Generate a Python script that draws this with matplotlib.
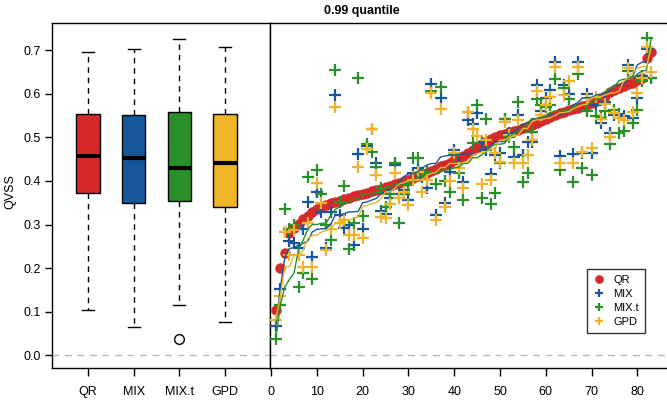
import numpy as np
import matplotlib
matplotlib.use('Agg')
import matplotlib.pyplot as plt

plt.rcParams['font.family'] = ['Liberation Sans', 'DejaVu Sans']

# 配色
colors = {'QR': '#D62A2A', 'MIX': '#16579C', 'MIX.t': '#2A902A', 'GPD': '#F0B428'}
methods = ['QR', 'MIX', 'MIX.t', 'GPD']

# 箱线图统计量 (下须, Q1, 中位数, Q3, 上须)
box_lo = [0.104, 0.065, 0.115, 0.077]
box_q1 = [0.372, 0.350, 0.355, 0.339]
box_med = [0.457, 0.452, 0.429, 0.442]
box_q3 = [0.553, 0.551, 0.557, 0.553]
box_hi = [0.695, 0.703, 0.726, 0.708]
box_fliers = [[], [], [0.037], []]

# 按QR排序后的各站点 QVSS
qr = [0.104, 0.200, 0.235, 0.280, 0.292, 0.302, 0.312, 0.320, 0.328, 0.336,
      0.341, 0.345, 0.349, 0.352, 0.355, 0.358, 0.361, 0.365, 0.368, 0.371,
      0.373, 0.376, 0.379, 0.382, 0.385, 0.388, 0.392, 0.396, 0.399, 0.403,
      0.407, 0.411, 0.415, 0.419, 0.423, 0.428, 0.433, 0.437, 0.442, 0.447,
      0.452, 0.457, 0.463, 0.470, 0.477, 0.484, 0.490, 0.496, 0.501, 0.505,
      0.508, 0.511, 0.514, 0.517, 0.521, 0.525, 0.529, 0.533, 0.537, 0.541,
      0.546, 0.551, 0.555, 0.559, 0.562, 0.565, 0.568, 0.571, 0.574, 0.578,
      0.583, 0.588, 0.595, 0.603, 0.608, 0.613, 0.617, 0.621, 0.625, 0.631,
      0.637, 0.682, 0.695]
mix = [0.068, 0.153, 0.283, 0.262, 0.257, 0.247, 0.290, 0.352, 0.226, 0.375,
       0.329, 0.245, 0.329, 0.597, 0.322, 0.291, 0.300, 0.253, 0.461, 0.289,
       0.480, 0.520, 0.440, 0.330, 0.325, 0.360, 0.436, 0.370, 0.380, 0.356,
       0.417, 0.430, 0.410, 0.383, 0.621, 0.322, 0.591, 0.350, 0.420, 0.471,
       0.440, 0.398, 0.540, 0.530, 0.555, 0.490, 0.470, 0.416, 0.459, 0.463,
       0.543, 0.510, 0.455, 0.551, 0.459, 0.490, 0.490, 0.620, 0.560, 0.591,
       0.608, 0.673, 0.457, 0.620, 0.600, 0.461, 0.672, 0.463, 0.599, 0.463,
       0.574, 0.532, 0.580, 0.509, 0.551, 0.553, 0.548, 0.666, 0.545, 0.590,
       0.640, 0.703, 0.636]
mix_t = [0.037, 0.115, 0.335, 0.289, 0.300, 0.157, 0.189, 0.409, 0.174, 0.426,
         0.370, 0.300, 0.264, 0.654, 0.352, 0.388, 0.243, 0.303, 0.635, 0.320,
         0.484, 0.467, 0.432, 0.383, 0.340, 0.370, 0.440, 0.303, 0.371, 0.390,
         0.453, 0.453, 0.417, 0.420, 0.605, 0.394, 0.616, 0.400, 0.375, 0.460,
         0.419, 0.357, 0.557, 0.486, 0.574, 0.360, 0.543, 0.348, 0.373, 0.440,
         0.543, 0.500, 0.478, 0.580, 0.398, 0.417, 0.513, 0.588, 0.574, 0.570,
         0.575, 0.633, 0.426, 0.612, 0.587, 0.398, 0.645, 0.430, 0.560, 0.413,
         0.549, 0.545, 0.560, 0.484, 0.562, 0.509, 0.514, 0.652, 0.533, 0.562,
         0.630, 0.727, 0.636]
gpd = [0.081, 0.136, 0.283, 0.230, 0.287, 0.230, 0.203, 0.303, 0.203, 0.396,
       0.350, 0.241, 0.290, 0.570, 0.303, 0.310, 0.276, 0.275, 0.431, 0.268,
       0.473, 0.520, 0.413, 0.318, 0.314, 0.348, 0.417, 0.360, 0.375, 0.344,
       0.402, 0.420, 0.375, 0.402, 0.601, 0.310, 0.565, 0.341, 0.400, 0.465,
       0.430, 0.383, 0.559, 0.520, 0.503, 0.393, 0.494, 0.403, 0.463, 0.444,
       0.536, 0.505, 0.440, 0.540, 0.440, 0.459, 0.494, 0.606, 0.550, 0.574,
       0.593, 0.662, 0.442, 0.597, 0.628, 0.441, 0.662, 0.467, 0.590, 0.475,
       0.593, 0.543, 0.576, 0.500, 0.556, 0.545, 0.540, 0.658, 0.557, 0.602,
       0.637, 0.706, 0.649]

fig = plt.figure(figsize=(6.67, 4), dpi=100)
ax1 = fig.add_axes([0.078, 0.08, 0.327, 0.8625])
ax2 = fig.add_axes([0.405, 0.08, 0.6, 0.8625], sharey=ax1)

ylim = (-0.029, 0.762)

# 左图：箱线图
stats = []
for i, m in enumerate(methods):
    stats.append({'label': m, 'whislo': box_lo[i], 'q1': box_q1[i], 'med': box_med[i],
                  'q3': box_q3[i], 'whishi': box_hi[i], 'fliers': box_fliers[i]})
ax1.axhline(0, color='#BBBBBB', linestyle=(0, (5, 4)), lw=1, zorder=0)
bp = ax1.bxp(stats, positions=[1, 2, 3, 4], widths=0.51, capwidths=0.26, patch_artist=True,
             boxprops=dict(edgecolor='black', lw=1),
             whiskerprops=dict(color='black', lw=1, linestyle=(0, (4, 3.5))),
             capprops=dict(color='black', lw=1),
             medianprops=dict(color='black', lw=3, solid_capstyle='butt'),
             flierprops=dict(marker='o', markerfacecolor='none', markeredgecolor='black',
                             markersize=7, markeredgewidth=1))
for patch, m in zip(bp['boxes'], methods):
    patch.set_facecolor(colors[m])
ax1.set_xlim(0.212, 4.985)
ax1.set_ylim(*ylim)
ax1.set_yticks(np.arange(0, 0.71, 0.1))
ax1.set_yticklabels(['%.1f' % v for v in np.arange(0, 0.71, 0.1)])
ax1.tick_params(axis='y', length=5, width=1, labelsize=9, pad=3)
ax1.tick_params(axis='x', length=6, width=1, labelsize=9, pad=7)

# 右图：按QR排序的散点和各方法排序后的曲线
x = np.arange(1, len(qr) + 1)
ax2.axhline(0, color='#BBBBBB', linestyle=(0, (5, 4)), lw=1, zorder=0)
ax2.plot(x, qr, 'o', color=colors['QR'], markersize=6.5, label='QR', zorder=2)
for m, vals in [('MIX', mix), ('MIX.t', mix_t), ('GPD', gpd)]:
    ax2.plot(x, vals, '+', color=colors[m], markersize=8, markeredgewidth=1.6, label=m, zorder=3)
for m, vals in [('MIX', mix), ('MIX.t', mix_t), ('GPD', gpd)]:
    ax2.plot(x, np.sort(vals), '-', color=colors[m], lw=1, zorder=4)
ax2.set_xlim(-0.22, 87.2)
ax2.set_xticks(np.arange(0, 81, 10))
ax2.tick_params(axis='x', length=6, width=1, labelsize=9, pad=7)
ax2.tick_params(axis='y', left=False, labelleft=False)
ax2.spines['right'].set_visible(False)

for ax in (ax1, ax2):
    for s in ax.spines.values():
        s.set_linewidth(1)

leg = ax2.legend(loc='lower right', bbox_to_anchor=(0.95, 0.085), fontsize=8, frameon=True,
                 fancybox=False, edgecolor='black', handlelength=1.0, handletextpad=0.8,
                 borderpad=0.55, labelspacing=0.35, markerscale=0.8)
leg.get_frame().set_linewidth(1)

fig.text(10 / 667, 1 - 192 / 400, 'QVSS', rotation=90, va='center', ha='center', fontsize=9)
fig.text(361.5 / 667, 1 - 11 / 400, '0.99 quantile', ha='center', va='center',
         fontsize=9, fontweight='bold')

fig.savefig('out.png', dpi=100)
